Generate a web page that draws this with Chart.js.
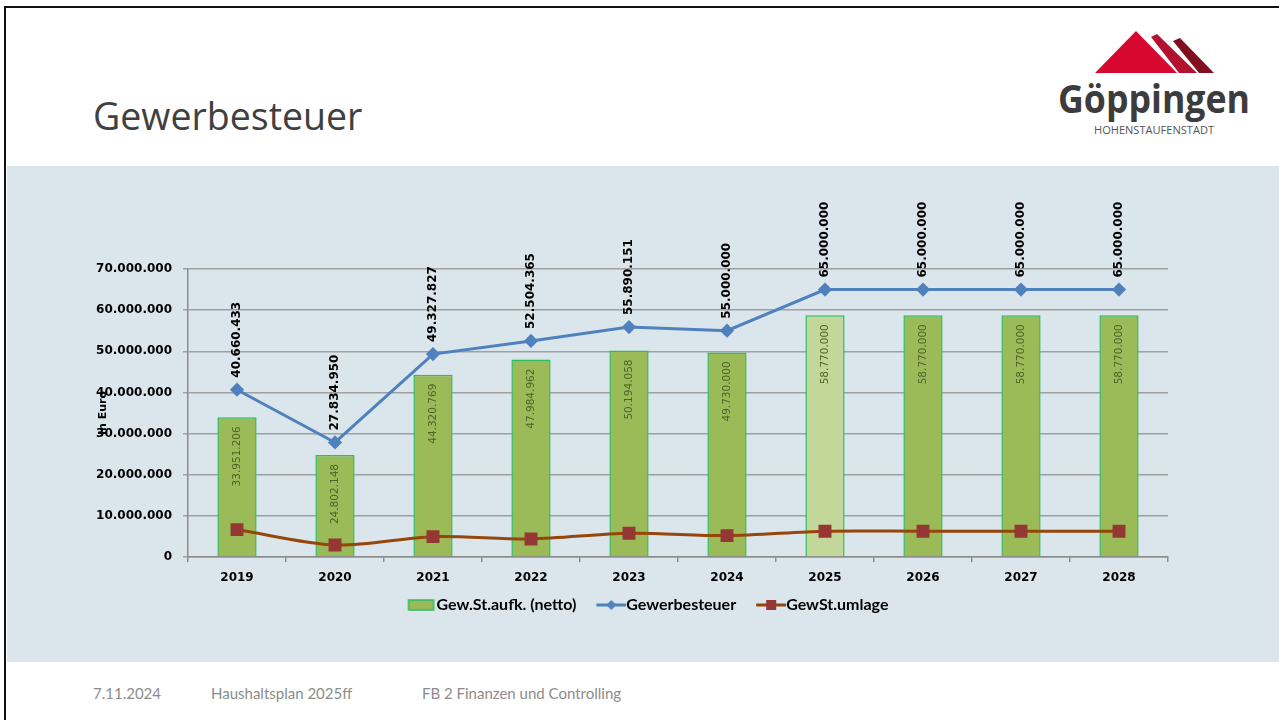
<!DOCTYPE html>
<html lang="de">
<head>
<meta charset="utf-8">
<title>Gewerbesteuer</title>
<script src="https://cdn.jsdelivr.net/npm/chart.js@4.4.1/dist/chart.umd.min.js"></script>
<style>
  html, body { margin: 0; padding: 0; background: #fff; }
  body { width: 1279px; height: 720px; position: relative; overflow: hidden; font-family: "Open Sans", sans-serif; }
  .frame { position: absolute; left: 4px; top: 6px; width: 1300px; height: 740px; border-left: 2px solid #111; border-top: 2px solid #111; }
  h1 { position: absolute; left: 93px; top: 97px; margin: 0; font-weight: 400; font-size: 37.5px; line-height: 1; color: #404040; }
  .logo { position: absolute; left: 1040px; top: 20px; }
  .panel { position: absolute; left: 7px; top: 166px; width: 1272px; height: 496px; background: #dbe5ec; }
  .footer span { position: absolute; top: 686px; font-family: Lato, sans-serif; font-size: 15px; line-height: 1; color: #8c8c8c; }
</style>
</head>
<body>
<div class="frame"></div>
<h1>Gewerbesteuer</h1>
<svg class="logo" width="230" height="125" viewBox="0 0 230 125">
  <polygon points="111,17 117,14 157,53 139,53" fill="#b3122e"/>
  <polygon points="133,21 140,18 174,53 159,53" fill="#80101f"/>
  <polygon points="96,11 55,53 137,53" fill="#d6082f"/>
  <text x="18" y="93" font-family="Open Sans" font-weight="700" font-size="40" fill="#3c3c3c" textLength="192" lengthAdjust="spacingAndGlyphs">Göppingen</text>
  <text x="54" y="114" font-family="Open Sans" font-size="10" fill="#555" textLength="120" lengthAdjust="spacingAndGlyphs">HOHENSTAUFENSTADT</text>
</svg>
<div class="panel"><canvas id="chart" width="1272" height="496"></canvas></div>
<div class="footer">
  <span style="left:93px">7.11.2024</span>
  <span style="left:211px">Haushaltsplan 2025ff</span>
  <span style="left:422px">FB 2 Finanzen und Controlling</span>
</div>
<script>
const years = ["2019", "2020", "2021", "2022", "2023", "2024", "2025", "2026", "2027", "2028"];
const aufkommen = [33951206, 24802148, 44320769, 47984962, 50194058, 49730000, 58770000, 58770000, 58770000, 58770000];
const gewerbesteuer = [40660433, 27834950, 49327827, 52504365, 55890151, 55000000, 65000000, 65000000, 65000000, 65000000];
const umlage = [6660000, 2930000, 4950000, 4390000, 5780000, 5200000, 6270000, 6270000, 6270000, 6270000];
const yTicks = [0, 10000000, 20000000, 30000000, 40000000, 50000000, 60000000, 70000000];
const seriesNames = ["Gew.St.aufk. (netto)", "Gewerbesteuer", "GewSt.umlage"];
const yTitle = "In Euro";

const fmt = (n) => String(Math.round(n)).replace(/\B(?=(\d{3})+(?!\d))/g, ".");

// colours
const barGreen = "#9bbb59";
const barLight = "#c4d79b";
const barBorder = "#2ebd5c";
const blue = "#4f81bd";
const brown = "#96460a";
const brownMark = "#953735";

// legend symbols: canvas is 47 wide, centred on the 31px box,
// so its right edge sits right against the text
function legendSymbol(kind) {
  const c = document.createElement("canvas");
  c.width = 47;
  c.height = 14;
  const g = c.getContext("2d");
  if (kind === "bar") {
    g.fillStyle = barGreen;
    g.fillRect(19, 2, 25, 10);
    g.strokeStyle = barBorder;
    g.lineWidth = 1.5;
    g.strokeRect(19, 2, 25, 10);
  } else {
    g.strokeStyle = kind === "blue" ? blue : brown;
    g.lineWidth = 3;
    g.beginPath();
    g.moveTo(17, 7);
    g.lineTo(47, 7);
    g.stroke();
    if (kind === "blue") {
      g.fillStyle = blue;
      g.beginPath();
      g.moveTo(32, 2);
      g.lineTo(37, 7);
      g.lineTo(32, 12);
      g.lineTo(27, 7);
      g.closePath();
      g.fill();
    } else {
      g.fillStyle = brownMark;
      g.fillRect(27, 2, 10, 10);
    }
  }
  return c;
}
const symbols = [legendSymbol("bar"), legendSymbol("blue"), legendSymbol("brown")];

// data labels + y axis title
const valueLabels = {
  id: "valueLabels",
  afterDatasetsDraw(chart) {
    const ctx = chart.ctx;
    const barMeta = chart.getDatasetMeta(0);
    const lineMeta = chart.getDatasetMeta(1);
    ctx.save();
    ctx.textBaseline = "middle";

    ctx.font = "10.5px 'DejaVu Sans'";
    ctx.fillStyle = "#4f6228";
    ctx.textAlign = "right";
    barMeta.data.forEach((bar, i) => {
      ctx.save();
      ctx.translate(bar.x, bar.y + 9);
      ctx.rotate(-Math.PI / 2);
      ctx.fillText(fmt(aufkommen[i]), 0, 0);
      ctx.restore();
    });

    ctx.font = "bold 12px 'DejaVu Sans'";
    ctx.fillStyle = "#000";
    ctx.textAlign = "left";
    lineMeta.data.forEach((pt, i) => {
      ctx.save();
      ctx.translate(pt.x, pt.y - 12);
      ctx.rotate(-Math.PI / 2);
      ctx.fillText(fmt(gewerbesteuer[i]), 0, 0);
      ctx.restore();
    });

    const area = chart.chartArea;
    ctx.font = "bold 11px 'DejaVu Sans'";
    ctx.textAlign = "center";
    ctx.translate(area.left - 85, (area.top + area.bottom) / 2);
    ctx.rotate(-Math.PI / 2);
    ctx.fillText(yTitle, 0, 0);
    ctx.restore();
  },
};

const ctx = document.getElementById("chart").getContext("2d");

new Chart(ctx, {
  data: {
    labels: years,
    datasets: [
      {
        type: "bar",
        label: seriesNames[0],
        data: aufkommen,
        backgroundColor: years.map((y) => (y === "2025" ? barLight : barGreen)),
        borderColor: barBorder,
        borderWidth: 1.5,
        barPercentage: 0.4,
        categoryPercentage: 1,
        order: 3,
      },
      {
        type: "line",
        label: seriesNames[1],
        data: gewerbesteuer,
        borderColor: blue,
        backgroundColor: blue,
        borderWidth: 3,
        pointStyle: "rectRot",
        pointRadius: 5,
        tension: 0,
        order: 2,
      },
      {
        type: "line",
        label: seriesNames[2],
        data: umlage,
        borderColor: brown,
        backgroundColor: brownMark,
        pointBorderColor: brownMark,
        borderWidth: 3,
        pointStyle: "rect",
        pointRadius: 7,
        tension: 0.3,
        order: 1,
      },
    ],
  },
  options: {
    responsive: false,
    animation: false,
    devicePixelRatio: 1,
    layout: {
      padding: { left: 0, right: 0, top: 103, bottom: 39 },
    },
    scales: {
      x: {
        offset: true,
        grid: {
          offset: true,
          drawOnChartArea: false,
          drawTicks: true,
          tickLength: 5,
          color: "#8c8c8c",
          lineWidth: 1.5,
        },
        border: { display: true, color: "#8c8c8c", width: 1.5 },
        ticks: {
          color: "#000",
          font: { family: "DejaVu Sans", size: 12, weight: "bold" },
          padding: 9,
        },
        afterFit(scale) {
          scale.height = 29;
        },
      },
      y: {
        min: 0,
        max: 70000000,
        afterBuildTicks(scale) {
          scale.ticks = yTicks.map((v) => ({ value: v }));
        },
        grid: {
          color: "#a0a0a0",
          lineWidth: 1.5,
          drawTicks: true,
          tickLength: 5,
        },
        border: { display: true, color: "#8c8c8c", width: 1.5 },
        ticks: {
          color: "#000",
          font: { family: "DejaVu Sans", size: 12, weight: "bold" },
          padding: 11,
          callback: (v) => fmt(v),
        },
        afterFit(scale) {
          scale.width = 181;
        },
      },
      // empty right-hand axis, only keeps the plot clear of the right edge
      spacer: {
        type: "linear",
        axis: "y",
        position: "right",
        grid: { display: false },
        border: { display: false },
        ticks: { display: false },
        afterFit(scale) {
          scale.width = 111;
        },
      },
    },
    plugins: {
      tooltip: { enabled: false },
      legend: {
        position: "bottom",
        labels: {
          usePointStyle: true,
          pointStyleWidth: 31,
          boxHeight: 12,
          padding: 11,
          color: "#000",
          font: { family: "Lato", size: 16, weight: "bold" },
          generateLabels: () =>
            seriesNames.map((name, i) => ({
              text: name,
              pointStyle: symbols[i],
              datasetIndex: i,
              fontColor: "#000",
              lineWidth: 0,
            })),
        },
      },
    },
  },
  plugins: [valueLabels],
});
</script>
</body>
</html>
